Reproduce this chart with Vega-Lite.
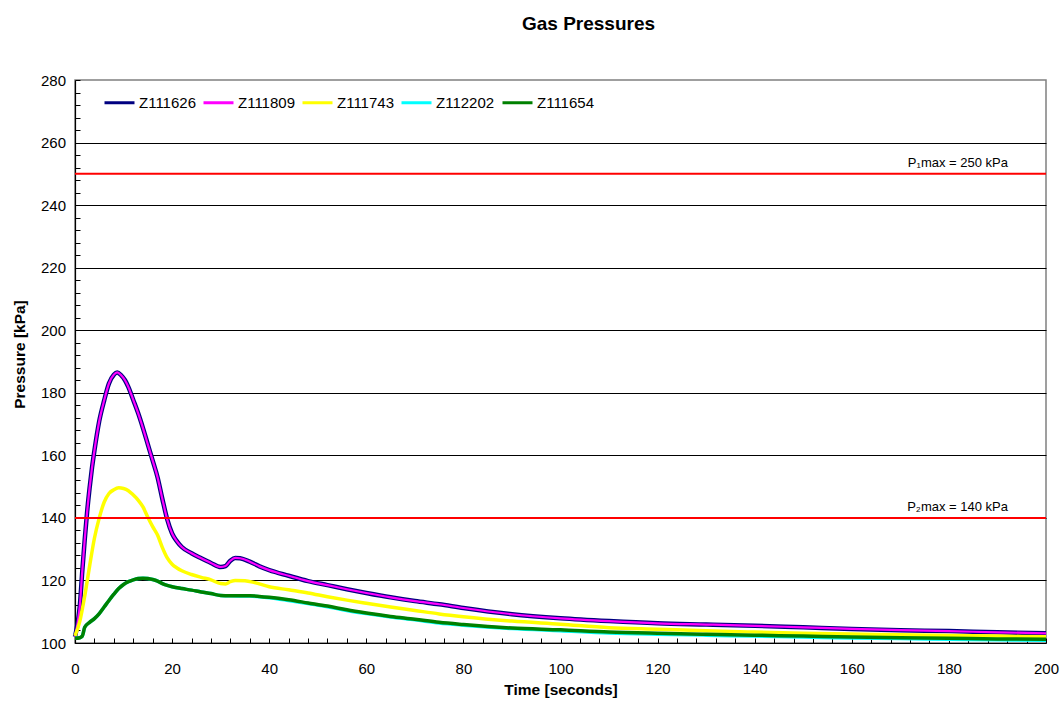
{
  "$schema": "https://vega.github.io/schema/vega-lite/v6.json",
  "autosize": "none",
  "width": 971,
  "height": 563,
  "padding": {"left": 75, "top": 80, "right": 16, "bottom": 61},
  "background": "white",
  "config": {
    "font": "Liberation Sans",
    "view": {"stroke": "#808080", "strokeWidth": 1.5},
    "axis": {"labelFont": "Liberation Sans", "titleFont": "Liberation Sans"},
    "axisX": {
      "titleFontSize": 15.5, "titleFontWeight": "bold", "titleColor": "black",
      "titleBaseline": "alphabetic", "titleY": 51,
      "labelFontSize": 15, "labelColor": "black",
      "labelOverlap": false, "labelFlush": false, "labelBound": false,
      "labelPadding": 23,
      "tickSize": -5, "tickColor": "black",
      "domainColor": "black", "domainWidth": 1.2,
      "grid": false
    }
  },
  "title": {
    "text": "Gas Pressures",
    "fontSize": 19,
    "fontWeight": "bold",
    "font": "Liberation Sans",
    "color": "black",
    "anchor": "middle",
    "dx": 28,
    "baseline": "alphabetic",
    "offset": 24
  },
  "datasets": {
    "curves": [
      {"series": "Z111626", "t": 0, "p": 102}, {"series": "Z111626", "t": 0.5, "p": 106}, {"series": "Z111626", "t": 1, "p": 112}, {"series": "Z111626", "t": 1.5, "p": 123}, {"series": "Z111626", "t": 2, "p": 133}, {"series": "Z111626", "t": 2.5, "p": 142}, {"series": "Z111626", "t": 3, "p": 149.5}, {"series": "Z111626", "t": 3.5, "p": 156}, {"series": "Z111626", "t": 4, "p": 161.5}, {"series": "Z111626", "t": 5, "p": 171}, {"series": "Z111626", "t": 6, "p": 177.5}, {"series": "Z111626", "t": 7, "p": 183}, {"series": "Z111626", "t": 8, "p": 185.8}, {"series": "Z111626", "t": 8.7, "p": 186.5}, {"series": "Z111626", "t": 9.5, "p": 185.6}, {"series": "Z111626", "t": 10.3, "p": 184}, {"series": "Z111626", "t": 11, "p": 181.8}, {"series": "Z111626", "t": 12, "p": 177.7}, {"series": "Z111626", "t": 13, "p": 173.5}, {"series": "Z111626", "t": 14, "p": 168.7}, {"series": "Z111626", "t": 15, "p": 163.5}, {"series": "Z111626", "t": 16, "p": 158.3}, {"series": "Z111626", "t": 17, "p": 153}, {"series": "Z111626", "t": 18, "p": 146}, {"series": "Z111626", "t": 19, "p": 139.5}, {"series": "Z111626", "t": 20, "p": 135}, {"series": "Z111626", "t": 21, "p": 132.5}, {"series": "Z111626", "t": 22, "p": 130.7}, {"series": "Z111626", "t": 24, "p": 128.7}, {"series": "Z111626", "t": 26, "p": 127.1}, {"series": "Z111626", "t": 28, "p": 125.6}, {"series": "Z111626", "t": 30, "p": 124.3}, {"series": "Z111626", "t": 31, "p": 124.6}, {"series": "Z111626", "t": 32, "p": 126.3}, {"series": "Z111626", "t": 33, "p": 127.2}, {"series": "Z111626", "t": 34, "p": 127.1}, {"series": "Z111626", "t": 36, "p": 126}, {"series": "Z111626", "t": 38, "p": 124.5}, {"series": "Z111626", "t": 40, "p": 123.3}, {"series": "Z111626", "t": 44, "p": 121.5}, {"series": "Z111626", "t": 48, "p": 119.8}, {"series": "Z111626", "t": 52, "p": 118.5}, {"series": "Z111626", "t": 56, "p": 117.2}, {"series": "Z111626", "t": 60, "p": 116}, {"series": "Z111626", "t": 65, "p": 114.6}, {"series": "Z111626", "t": 70, "p": 113.4}, {"series": "Z111626", "t": 75, "p": 112.4}, {"series": "Z111626", "t": 80, "p": 111.2}, {"series": "Z111626", "t": 90, "p": 109.2}, {"series": "Z111626", "t": 100, "p": 107.9}, {"series": "Z111626", "t": 110, "p": 107}, {"series": "Z111626", "t": 120, "p": 106.3}, {"series": "Z111626", "t": 130, "p": 105.9}, {"series": "Z111626", "t": 140, "p": 105.5}, {"series": "Z111626", "t": 150, "p": 105}, {"series": "Z111626", "t": 160, "p": 104.5}, {"series": "Z111626", "t": 170, "p": 104.1}, {"series": "Z111626", "t": 180, "p": 103.8}, {"series": "Z111626", "t": 190, "p": 103.4}, {"series": "Z111626", "t": 200, "p": 103.1},

      {"series": "Z111809", "t": 0, "p": 102}, {"series": "Z111809", "t": 0.5, "p": 106}, {"series": "Z111809", "t": 1, "p": 112}, {"series": "Z111809", "t": 1.5, "p": 123}, {"series": "Z111809", "t": 2, "p": 133}, {"series": "Z111809", "t": 2.5, "p": 142}, {"series": "Z111809", "t": 3, "p": 149.5}, {"series": "Z111809", "t": 3.5, "p": 156}, {"series": "Z111809", "t": 4, "p": 161.5}, {"series": "Z111809", "t": 5, "p": 171}, {"series": "Z111809", "t": 6, "p": 177.5}, {"series": "Z111809", "t": 7, "p": 183}, {"series": "Z111809", "t": 8, "p": 185.8}, {"series": "Z111809", "t": 8.7, "p": 186.5}, {"series": "Z111809", "t": 9.5, "p": 185.6}, {"series": "Z111809", "t": 10.3, "p": 184}, {"series": "Z111809", "t": 11, "p": 181.8}, {"series": "Z111809", "t": 12, "p": 177.7}, {"series": "Z111809", "t": 13, "p": 173.5}, {"series": "Z111809", "t": 14, "p": 168.7}, {"series": "Z111809", "t": 15, "p": 163.5}, {"series": "Z111809", "t": 16, "p": 158.3}, {"series": "Z111809", "t": 17, "p": 153}, {"series": "Z111809", "t": 18, "p": 146}, {"series": "Z111809", "t": 19, "p": 139.5}, {"series": "Z111809", "t": 20, "p": 135}, {"series": "Z111809", "t": 21, "p": 132.5}, {"series": "Z111809", "t": 22, "p": 130.7}, {"series": "Z111809", "t": 24, "p": 128.7}, {"series": "Z111809", "t": 26, "p": 127.1}, {"series": "Z111809", "t": 28, "p": 125.6}, {"series": "Z111809", "t": 30, "p": 124.3}, {"series": "Z111809", "t": 31, "p": 124.6}, {"series": "Z111809", "t": 32, "p": 126.3}, {"series": "Z111809", "t": 33, "p": 127.2}, {"series": "Z111809", "t": 34, "p": 127.1}, {"series": "Z111809", "t": 36, "p": 126}, {"series": "Z111809", "t": 38, "p": 124.5}, {"series": "Z111809", "t": 40, "p": 123.3}, {"series": "Z111809", "t": 44, "p": 121.5}, {"series": "Z111809", "t": 48, "p": 119.8}, {"series": "Z111809", "t": 52, "p": 118.5}, {"series": "Z111809", "t": 56, "p": 117.2}, {"series": "Z111809", "t": 60, "p": 116}, {"series": "Z111809", "t": 65, "p": 114.6}, {"series": "Z111809", "t": 70, "p": 113.4}, {"series": "Z111809", "t": 75, "p": 112.4}, {"series": "Z111809", "t": 80, "p": 111.2}, {"series": "Z111809", "t": 90, "p": 109.2}, {"series": "Z111809", "t": 100, "p": 107.9}, {"series": "Z111809", "t": 110, "p": 107}, {"series": "Z111809", "t": 120, "p": 106.3}, {"series": "Z111809", "t": 130, "p": 105.9}, {"series": "Z111809", "t": 140, "p": 105.5}, {"series": "Z111809", "t": 150, "p": 105}, {"series": "Z111809", "t": 160, "p": 104.5}, {"series": "Z111809", "t": 170, "p": 104.1}, {"series": "Z111809", "t": 180, "p": 103.8}, {"series": "Z111809", "t": 190, "p": 103.4}, {"series": "Z111809", "t": 200, "p": 103.1},

      {"series": "Z111743", "t": 0, "p": 102.3}, {"series": "Z111743", "t": 1, "p": 107}, {"series": "Z111743", "t": 2, "p": 115}, {"series": "Z111743", "t": 3, "p": 124.5}, {"series": "Z111743", "t": 4, "p": 133.5}, {"series": "Z111743", "t": 5, "p": 140}, {"series": "Z111743", "t": 6, "p": 145}, {"series": "Z111743", "t": 7, "p": 147.8}, {"series": "Z111743", "t": 8, "p": 149}, {"series": "Z111743", "t": 9, "p": 149.6}, {"series": "Z111743", "t": 10, "p": 149.4}, {"series": "Z111743", "t": 11, "p": 148.7}, {"series": "Z111743", "t": 12, "p": 147.3}, {"series": "Z111743", "t": 13, "p": 145.7}, {"series": "Z111743", "t": 14, "p": 143.5}, {"series": "Z111743", "t": 15, "p": 140.2}, {"series": "Z111743", "t": 16, "p": 137.2}, {"series": "Z111743", "t": 17, "p": 134.5}, {"series": "Z111743", "t": 18, "p": 130.5}, {"series": "Z111743", "t": 19, "p": 127.2}, {"series": "Z111743", "t": 20, "p": 125.2}, {"series": "Z111743", "t": 21, "p": 124}, {"series": "Z111743", "t": 22, "p": 123.1}, {"series": "Z111743", "t": 24, "p": 121.9}, {"series": "Z111743", "t": 26, "p": 121}, {"series": "Z111743", "t": 28, "p": 120.2}, {"series": "Z111743", "t": 30, "p": 119}, {"series": "Z111743", "t": 31, "p": 118.9}, {"series": "Z111743", "t": 32, "p": 119.6}, {"series": "Z111743", "t": 33, "p": 120}, {"series": "Z111743", "t": 35, "p": 119.9}, {"series": "Z111743", "t": 37, "p": 119.3}, {"series": "Z111743", "t": 40, "p": 118}, {"series": "Z111743", "t": 44, "p": 117}, {"series": "Z111743", "t": 48, "p": 116}, {"series": "Z111743", "t": 52, "p": 114.8}, {"series": "Z111743", "t": 56, "p": 113.7}, {"series": "Z111743", "t": 60, "p": 112.7}, {"series": "Z111743", "t": 65, "p": 111.5}, {"series": "Z111743", "t": 70, "p": 110.4}, {"series": "Z111743", "t": 75, "p": 109.3}, {"series": "Z111743", "t": 80, "p": 108.4}, {"series": "Z111743", "t": 90, "p": 107}, {"series": "Z111743", "t": 100, "p": 106}, {"series": "Z111743", "t": 110, "p": 104.9}, {"series": "Z111743", "t": 120, "p": 104.4}, {"series": "Z111743", "t": 130, "p": 103.9}, {"series": "Z111743", "t": 140, "p": 103.5}, {"series": "Z111743", "t": 150, "p": 103.1}, {"series": "Z111743", "t": 160, "p": 102.9}, {"series": "Z111743", "t": 170, "p": 102.6}, {"series": "Z111743", "t": 180, "p": 102.4}, {"series": "Z111743", "t": 190, "p": 102.2}, {"series": "Z111743", "t": 200, "p": 102},

      {"series": "Z112202", "t": 0, "p": 101.5}, {"series": "Z112202", "t": 1, "p": 101.7}, {"series": "Z112202", "t": 1.5, "p": 102.2}, {"series": "Z112202", "t": 2, "p": 105}, {"series": "Z112202", "t": 3, "p": 106.6}, {"series": "Z112202", "t": 4, "p": 107.8}, {"series": "Z112202", "t": 5, "p": 109.4}, {"series": "Z112202", "t": 6, "p": 111.5}, {"series": "Z112202", "t": 7, "p": 113.6}, {"series": "Z112202", "t": 8, "p": 115.6}, {"series": "Z112202", "t": 9, "p": 117.4}, {"series": "Z112202", "t": 10, "p": 118.7}, {"series": "Z112202", "t": 11, "p": 119.6}, {"series": "Z112202", "t": 12, "p": 120.2}, {"series": "Z112202", "t": 13, "p": 120.6}, {"series": "Z112202", "t": 14, "p": 120.7}, {"series": "Z112202", "t": 15, "p": 120.6}, {"series": "Z112202", "t": 16, "p": 120.3}, {"series": "Z112202", "t": 17, "p": 119.8}, {"series": "Z112202", "t": 18, "p": 119}, {"series": "Z112202", "t": 19, "p": 118.4}, {"series": "Z112202", "t": 20, "p": 118}, {"series": "Z112202", "t": 22, "p": 117.4}, {"series": "Z112202", "t": 24, "p": 116.9}, {"series": "Z112202", "t": 26, "p": 116.3}, {"series": "Z112202", "t": 28, "p": 115.8}, {"series": "Z112202", "t": 30, "p": 115.2}, {"series": "Z112202", "t": 32, "p": 115.1}, {"series": "Z112202", "t": 36, "p": 115}, {"series": "Z112202", "t": 38, "p": 114.8}, {"series": "Z112202", "t": 40, "p": 114.5}, {"series": "Z112202", "t": 44, "p": 113.6}, {"series": "Z112202", "t": 48, "p": 112.6}, {"series": "Z112202", "t": 52, "p": 111.6}, {"series": "Z112202", "t": 56, "p": 110.4}, {"series": "Z112202", "t": 60, "p": 109.4}, {"series": "Z112202", "t": 65, "p": 108.3}, {"series": "Z112202", "t": 70, "p": 107.4}, {"series": "Z112202", "t": 75, "p": 106.4}, {"series": "Z112202", "t": 80, "p": 105.7}, {"series": "Z112202", "t": 90, "p": 104.6}, {"series": "Z112202", "t": 100, "p": 103.9}, {"series": "Z112202", "t": 110, "p": 103.2}, {"series": "Z112202", "t": 120, "p": 102.8}, {"series": "Z112202", "t": 130, "p": 102.5}, {"series": "Z112202", "t": 140, "p": 102.2}, {"series": "Z112202", "t": 150, "p": 101.9}, {"series": "Z112202", "t": 160, "p": 101.6}, {"series": "Z112202", "t": 170, "p": 101.4}, {"series": "Z112202", "t": 180, "p": 101.2}, {"series": "Z112202", "t": 190, "p": 101}, {"series": "Z112202", "t": 200, "p": 100.9},

      {"series": "Z111654", "t": 0, "p": 101.5}, {"series": "Z111654", "t": 1, "p": 101.7}, {"series": "Z111654", "t": 1.5, "p": 102.2}, {"series": "Z111654", "t": 2, "p": 105}, {"series": "Z111654", "t": 3, "p": 106.6}, {"series": "Z111654", "t": 4, "p": 107.8}, {"series": "Z111654", "t": 5, "p": 109.4}, {"series": "Z111654", "t": 6, "p": 111.5}, {"series": "Z111654", "t": 7, "p": 113.6}, {"series": "Z111654", "t": 8, "p": 115.6}, {"series": "Z111654", "t": 9, "p": 117.4}, {"series": "Z111654", "t": 10, "p": 118.7}, {"series": "Z111654", "t": 11, "p": 119.6}, {"series": "Z111654", "t": 12, "p": 120.2}, {"series": "Z111654", "t": 13, "p": 120.6}, {"series": "Z111654", "t": 14, "p": 120.7}, {"series": "Z111654", "t": 15, "p": 120.6}, {"series": "Z111654", "t": 16, "p": 120.3}, {"series": "Z111654", "t": 17, "p": 119.8}, {"series": "Z111654", "t": 18, "p": 119}, {"series": "Z111654", "t": 19, "p": 118.4}, {"series": "Z111654", "t": 20, "p": 118}, {"series": "Z111654", "t": 22, "p": 117.4}, {"series": "Z111654", "t": 24, "p": 116.9}, {"series": "Z111654", "t": 26, "p": 116.3}, {"series": "Z111654", "t": 28, "p": 115.8}, {"series": "Z111654", "t": 30, "p": 115.2}, {"series": "Z111654", "t": 32, "p": 115.1}, {"series": "Z111654", "t": 36, "p": 115.1}, {"series": "Z111654", "t": 38, "p": 114.9}, {"series": "Z111654", "t": 40, "p": 114.6}, {"series": "Z111654", "t": 44, "p": 113.8}, {"series": "Z111654", "t": 48, "p": 112.8}, {"series": "Z111654", "t": 52, "p": 111.8}, {"series": "Z111654", "t": 56, "p": 110.6}, {"series": "Z111654", "t": 60, "p": 109.6}, {"series": "Z111654", "t": 65, "p": 108.5}, {"series": "Z111654", "t": 70, "p": 107.6}, {"series": "Z111654", "t": 75, "p": 106.6}, {"series": "Z111654", "t": 80, "p": 105.9}, {"series": "Z111654", "t": 90, "p": 104.8}, {"series": "Z111654", "t": 100, "p": 104.2}, {"series": "Z111654", "t": 110, "p": 103.5}, {"series": "Z111654", "t": 120, "p": 103.1}, {"series": "Z111654", "t": 130, "p": 102.8}, {"series": "Z111654", "t": 140, "p": 102.5}, {"series": "Z111654", "t": 150, "p": 102.2}, {"series": "Z111654", "t": 160, "p": 101.9}, {"series": "Z111654", "t": 170, "p": 101.7}, {"series": "Z111654", "t": 180, "p": 101.5}, {"series": "Z111654", "t": 190, "p": 101.3}, {"series": "Z111654", "t": 200, "p": 101.2}
    ],
    "limits": [
      {"p": 250, "label": "P₁max = 250 kPa"},
      {"p": 140, "label": "P₂max = 140 kPa"}
    ]
  },
  "encoding": {
    "y": {
      "field": "p", "type": "quantitative",
      "scale": {"domain": [100, 280], "nice": false, "zero": false},
      "axis": {
        "title": "Pressure [kPa]",
        "titleFontSize": 15.5, "titleFontWeight": "bold", "titleColor": "black",
        "titleBaseline": "alphabetic", "titleAngle": -90,
        "titleX": -51, "titleY": 274, "titleAlign": "center",
        "values": [100,104,108,112,116,120,124,128,132,136,140,144,148,152,156,160,164,168,172,176,180,184,188,192,196,200,204,208,212,216,220,224,228,232,236,240,244,248,252,256,260,264,268,272,276,280],
        "labelExpr": "datum.value % 20 === 0 ? datum.label : ''",
        "labelFontSize": 15, "labelColor": "black",
        "labelOverlap": false, "labelFlush": false, "labelBound": false,
        "labelPadding": 14.5,
        "tickSize": -5, "tickColor": "black",
        "domainColor": "black", "domainWidth": 1.2,
        "grid": true,
        "gridColor": "black",
        "gridWidth": 1,
        "gridOpacity": {"condition": {"test": "datum.value % 20 === 0 && datum.value > 100 && datum.value < 280", "value": 1}, "value": 0}
      }
    }
  },
  "layer": [
    {
      "data": {"name": "curves"},
      "transform": [{"filter": "datum.series === 'Z111626'"}],
      "mark": {"type": "line", "strokeWidth": 4.5, "interpolate": "monotone"},
      "encoding": {
        "x": {
          "field": "t", "type": "quantitative",
          "scale": {"domain": [0, 200], "nice": false, "zero": false},
          "axis": {
            "title": "Time [seconds]",
            "values": [0,4,8,12,16,20,24,28,32,36,40,44,48,52,56,60,64,68,72,76,80,84,88,92,96,100,104,108,112,116,120,124,128,132,136,140,144,148,152,156,160,164,168,172,176,180,184,188,192,196,200],
            "labelExpr": "datum.value % 20 === 0 ? datum.label : ''"
          }
        },
        "color": {
          "field": "series", "type": "nominal",
          "scale": {"domain": ["Z111626", "Z111809", "Z111743", "Z112202", "Z111654"], "range": ["#000080", "#FF00FF", "#FFFF00", "#00FFFF", "#008000"]},
          "legend": {
            "title": null, "orient": "none", "direction": "horizontal",
            "legendX": 28, "legendY": 6,
            "symbolType": "stroke", "symbolSize": 900, "symbolStrokeWidth": 3,
            "labelFontSize": 15, "labelFont": "Liberation Sans", "labelColor": "black",
            "labelOffset": 3, "columnPadding": 1, "padding": 0
          }
        }
      }
    },
    {
      "data": {"name": "curves"},
      "transform": [{"filter": "datum.series === 'Z111809'"}],
      "mark": {"type": "line", "strokeWidth": 2.2, "interpolate": "monotone"},
      "encoding": {
        "x": {
          "field": "t", "type": "quantitative",
          "scale": {"domain": [0, 200], "nice": false, "zero": false},
          "axis": {
            "title": "Time [seconds]",
            "values": [0,4,8,12,16,20,24,28,32,36,40,44,48,52,56,60,64,68,72,76,80,84,88,92,96,100,104,108,112,116,120,124,128,132,136,140,144,148,152,156,160,164,168,172,176,180,184,188,192,196,200],
            "labelExpr": "datum.value % 20 === 0 ? datum.label : ''"
          }
        },
        "color": {"field": "series", "type": "nominal"}
      }
    },
    {
      "data": {"name": "curves"},
      "transform": [{"filter": "datum.series === 'Z111743'"}],
      "mark": {"type": "line", "strokeWidth": 3.5, "interpolate": "monotone"},
      "encoding": {
        "x": {
          "field": "t", "type": "quantitative",
          "scale": {"domain": [0, 200], "nice": false, "zero": false},
          "axis": {
            "title": "Time [seconds]",
            "values": [0,4,8,12,16,20,24,28,32,36,40,44,48,52,56,60,64,68,72,76,80,84,88,92,96,100,104,108,112,116,120,124,128,132,136,140,144,148,152,156,160,164,168,172,176,180,184,188,192,196,200],
            "labelExpr": "datum.value % 20 === 0 ? datum.label : ''"
          }
        },
        "color": {"field": "series", "type": "nominal"}
      }
    },
    {
      "data": {"name": "curves"},
      "transform": [{"filter": "datum.series === 'Z112202'"}],
      "mark": {"type": "line", "strokeWidth": 3.5, "interpolate": "monotone"},
      "encoding": {
        "x": {
          "field": "t", "type": "quantitative",
          "scale": {"domain": [0, 200], "nice": false, "zero": false},
          "axis": {
            "title": "Time [seconds]",
            "values": [0,4,8,12,16,20,24,28,32,36,40,44,48,52,56,60,64,68,72,76,80,84,88,92,96,100,104,108,112,116,120,124,128,132,136,140,144,148,152,156,160,164,168,172,176,180,184,188,192,196,200],
            "labelExpr": "datum.value % 20 === 0 ? datum.label : ''"
          }
        },
        "color": {"field": "series", "type": "nominal"}
      }
    },
    {
      "data": {"name": "curves"},
      "transform": [{"filter": "datum.series === 'Z111654'"}],
      "mark": {"type": "line", "strokeWidth": 3.5, "interpolate": "monotone"},
      "encoding": {
        "x": {
          "field": "t", "type": "quantitative",
          "scale": {"domain": [0, 200], "nice": false, "zero": false},
          "axis": {
            "title": "Time [seconds]",
            "values": [0,4,8,12,16,20,24,28,32,36,40,44,48,52,56,60,64,68,72,76,80,84,88,92,96,100,104,108,112,116,120,124,128,132,136,140,144,148,152,156,160,164,168,172,176,180,184,188,192,196,200],
            "labelExpr": "datum.value % 20 === 0 ? datum.label : ''"
          }
        },
        "color": {"field": "series", "type": "nominal"}
      }
    },
    {
      "data": {"name": "limits"},
      "mark": {"type": "rule", "color": "#FF0000", "strokeWidth": 2},
      "encoding": {}
    },
    {
      "data": {"name": "limits"},
      "mark": {"type": "text", "align": "right", "baseline": "alphabetic", "dx": -38, "dy": -7, "fontSize": 13, "font": "Liberation Sans", "color": "black"},
      "encoding": {
        "x": {
          "datum": 200, "type": "quantitative",
          "scale": {"domain": [0, 200], "nice": false, "zero": false},
          "axis": {
            "title": "Time [seconds]",
            "values": [0,4,8,12,16,20,24,28,32,36,40,44,48,52,56,60,64,68,72,76,80,84,88,92,96,100,104,108,112,116,120,124,128,132,136,140,144,148,152,156,160,164,168,172,176,180,184,188,192,196,200],
            "labelExpr": "datum.value % 20 === 0 ? datum.label : ''"
          }
        },
        "text": {"field": "label", "type": "nominal"}
      }
    }
  ]
}
